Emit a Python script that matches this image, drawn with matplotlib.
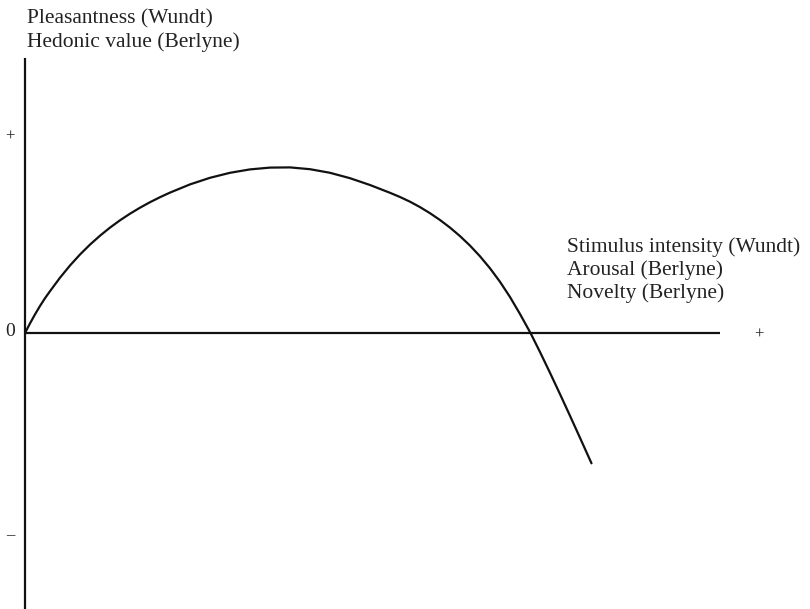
import matplotlib
matplotlib.use("Agg")
import matplotlib.pyplot as plt

# Wundt curve: stimulus intensity (x) vs pleasantness (y), arbitrary units
intensity = [0.0, 0.5, 1.0, 1.5, 2.0, 2.5,
             3.5, 4.5, 5.5, 6.5, 7.5, 8.5, 9.5, 10.5, 11.5, 12.5, 13.5, 14.5,
             16.5, 18.5, 20.5, 22.5, 24.5, 26.5, 28.5, 30.5, 32.5, 34.5, 36.5,
             37.5, 38.5, 39.5, 40.5, 41.5, 42.5, 43.5, 44.5, 45.5, 46.5, 47.5,
             48.5, 49.5,
             50.55, 51.5, 52.5, 53.5, 54.5, 55.5, 56.65]
pleasantness = [0.00, 0.96, 1.86, 2.70, 3.48, 4.18,
                5.53, 6.75, 7.85, 8.84, 9.73, 10.54, 11.27, 11.93, 12.53, 13.08,
                13.58, 14.04,
                14.86, 15.52, 16.02, 16.36, 16.54, 16.56, 16.38, 16.02, 15.48,
                14.80, 14.02,
                13.60, 13.13, 12.59, 11.98, 11.30, 10.54, 9.69, 8.74, 7.67, 6.47,
                5.12, 3.60, 1.90,
                0.00, -1.90, -3.98, -6.11, -8.28, -10.48, -13.03]

y_axis_label = ["Pleasantness (Wundt)", "Hedonic value (Berlyne)"]
x_axis_label = ["Stimulus intensity (Wundt)", "Arousal (Berlyne)", "Novelty (Berlyne)"]
y_ticks = [(19.6, "+"), (0.1, "0"), (-20.2, "\u2013")]
x_tick_plus = (73.4, "+")

plt.rcParams['font.family'] = ['Liberation Serif', 'DejaVu Serif']

fig = plt.figure(figsize=(8.10, 6.09), dpi=100)
ax = fig.add_axes([0, 0, 1, 1])
ax.set_xlim(-2.5, 78.5)
ax.set_ylim(-27.6, 33.3)
ax.axis("off")

lw = 1.6
ink = "#111111"
# axes
ax.plot([0, 0], [27.5, -27.6], color=ink, lw=lw, solid_capstyle="butt")
ax.plot([0, 69.5], [0, 0], color=ink, lw=lw, solid_capstyle="butt")
# curve
ax.plot(intensity, pleasantness, color=ink, lw=lw, solid_capstyle="round",
        solid_joinstyle="round")

# y-axis label (top-left)
for i, t in enumerate(y_axis_label):
    ax.text(0.2, 31.0 - i * 2.4, t, fontsize=15.5, ha="left", va="baseline",
            color="#222222")

# x-axis label (right)
for i, t in enumerate(x_axis_label):
    ax.text(54.2, 8.1 - i * 2.3, t, fontsize=15.5, ha="left", va="baseline",
            color="#222222")

# tick marks
for yv, s in y_ticks:
    ax.text(-1.5, yv, s, fontsize=14 if s == "0" else 12, ha="center",
            va="center", color="#222222")
ax.text(x_tick_plus[0], -0.2, x_tick_plus[1], fontsize=12, ha="center",
        va="center", color="#222222")

fig.savefig("out.png", dpi=100)
